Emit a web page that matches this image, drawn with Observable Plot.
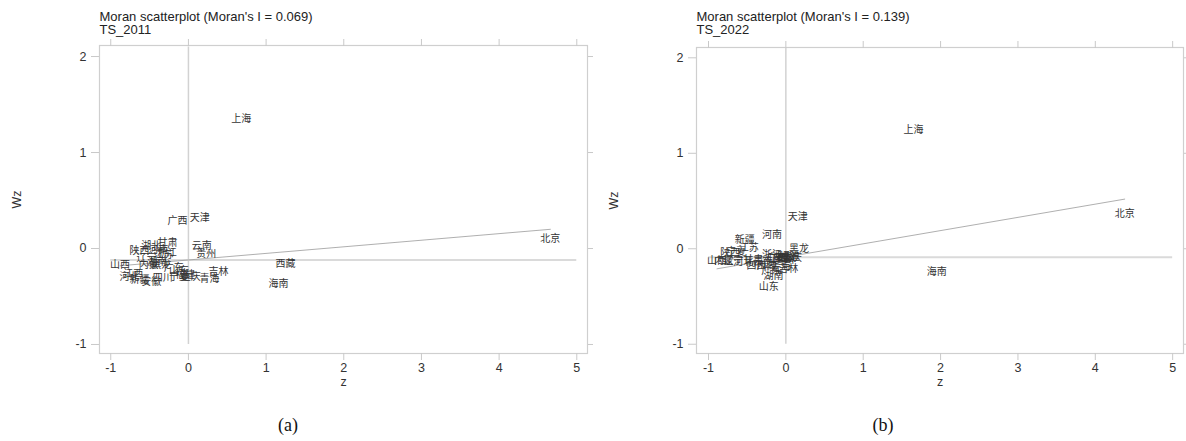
<!DOCTYPE html>
<html><head><meta charset="utf-8">
<script src="https://cdn.jsdelivr.net/npm/d3@7"></script>
<script src="https://cdn.jsdelivr.net/npm/@observablehq/plot@0.6"></script>
<style>
html,body{margin:0;padding:0;background:#fff}
body{width:1186px;height:441px;position:relative;overflow:hidden;font-family:"Liberation Sans",Arial,sans-serif}
.panel{position:absolute;top:0}
.cap{position:absolute;top:413px;width:60px;margin-left:-30px;text-align:center;font-family:"Liberation Serif","Times New Roman",serif;font-size:18px;line-height:24px;color:#111}
</style>
</head><body>
<div id="pa" class="panel" style="left:0"></div>
<div id="pb" class="panel" style="left:593px"></div>
<div class="cap" style="left:288px">(a)</div>
<div class="cap" style="left:883px">(b)</div>
<script>
// ---- data ----
const provinces = ["北京","天津","河北","山西","内蒙","辽宁","吉林","黑龙","上海","江苏","浙江","安徽","福建","江西","山东","河南","湖北","湖南","广东","广西","海南","重庆","四川","贵州","云南","西藏","陕西","甘肃","青海","宁夏","新疆"];

const zA  = [4.66, 0.145, -0.76, -0.88, -0.51, -0.54, 0.386, -0.35, 0.68, -0.32, -0.28, -0.48, -0.04, -0.71, -0.12, -0.39, -0.48, -0.40, -0.19, -0.14, 1.16, 0.03, -0.33, 0.23, 0.17, 1.25, -0.63, -0.27, 0.27, -0.12, -0.63];
const wzA = [0.10, 0.32, -0.30, -0.17, -0.17, -0.10, -0.24, -0.17, 1.354, -0.07, -0.04, -0.35, -0.27, -0.26, -0.23, -0.01, 0.03, -0.135, -0.20, 0.29, -0.37, -0.30, -0.31, -0.06, 0.03, -0.156, -0.02, 0.057, -0.32, -0.30, -0.33];

const zB  = [4.38, 0.155, -0.55, -0.89, -0.80, -0.68, 0.03, 0.17, 1.65, -0.48, -0.18, 0.0, 0.05, -0.10, -0.22, -0.18, -0.05, -0.16, -0.19, -0.12, 1.95, 0.08, -0.38, -0.02, -0.30, -0.25, -0.72, -0.42, -0.07, -0.64, -0.53];
const wzB = [0.37, 0.34, -0.14, -0.13, -0.13, -0.13, -0.21, 0.0, 1.25, 0.01, -0.06, -0.09, -0.08, -0.10, -0.40, 0.15, -0.08, -0.28, -0.23, -0.09, -0.24, -0.09, -0.18, -0.12, -0.14, -0.18, -0.04, -0.12, -0.19, -0.03, 0.09];

const fitZA = [-0.88, 4.66], fitWzA = [-0.18, 0.20];
const fitZB = [-0.89, 4.38], fitWzB = [-0.21, 0.52];
const meanWzA = -0.12, meanWzB = -0.09;

const xTicks = [-1, 0, 1, 2, 3, 4, 5];
const yTicks = [-1, 0, 1, 2];
const titleA = "Moran scatterplot (Moran's I = 0.069)", subA = "TS_2011";
const titleB = "Moran scatterplot (Moran's I = 0.139)", subB = "TS_2022";

// ---- drawing ----
const fmt = d => (d < 0 ? "-" : "") + Math.abs(d);

function panel({z, wz, fitZ, fitWz, meanWz, title, sub, marginLeft, marginRight, marginTop, xDomain, yDomain}) {
  const pts = provinces.map((name, i) => ({name, z: z[i], wz: wz[i]}));
  const fit = fitZ.map((v, i) => ({z: v, wz: fitWz[i]}));
  const tickColor = "#c9c9c9";
  const height = 400, marginBottom = 47;
  return Plot.plot({
    width: 593, height,
    marginLeft, marginRight, marginTop, marginBottom,
    x: {domain: xDomain},
    y: {domain: yDomain},
    style: {fontFamily: "'Liberation Sans', Arial, sans-serif", fontSize: "12px", background: "white", color: "#333", overflow: "visible"},
    marks: [
      Plot.frame({stroke: "#cfcfcf", strokeWidth: 1.2}),
      Plot.axisY(yTicks, {anchor: "left", tickSize: 8, tickPadding: 5, tickFormat: fmt, stroke: tickColor, fill: "#333", label: null, fontSize: 12.5}),
      Plot.axisY(yTicks, {anchor: "right", tickSize: 8, stroke: tickColor, fill: "none", label: null}),
      Plot.axisX(xTicks, {anchor: "bottom", tickSize: 7, tickPadding: 3, tickFormat: fmt, stroke: tickColor, fill: "#333", label: null, fontSize: 12.5}),
      Plot.axisX(xTicks, {anchor: "top", tickSize: 7, stroke: tickColor, fill: "none", label: null}),
      Plot.ruleX([0], {y1: -1, y2: 2.1, stroke: "#d2d2d2", strokeWidth: 1.5}),
      Plot.ruleY([meanWz], {x1: -1, x2: 5, stroke: "#dadada", strokeWidth: 2}),
      Plot.line(fit, {x: "z", y: "wz", stroke: "#9a9a9a", strokeWidth: 0.8}),
      Plot.text(pts, {x: "z", y: "wz", text: "name", fontFamily: "'Noto Sans CJK SC', sans-serif", fontSize: 10, fill: "#333"}),
      Plot.text([title], {frameAnchor: "top-left", textAnchor: "start", lineAnchor: "middle", dy: 16.5 - marginTop, fontSize: 13, fill: "#222"}),
      Plot.text([sub], {frameAnchor: "top-left", textAnchor: "start", lineAnchor: "middle", dy: 29 - marginTop, fontSize: 13, fill: "#222"}),
      Plot.text(["z"], {frameAnchor: "bottom", textAnchor: "middle", lineAnchor: "middle", dy: 28, fontSize: 12.5, fill: "#333"}),
      Plot.text(["Wz"], {frameAnchor: "left", textAnchor: "middle", lineAnchor: "middle", dx: -83, rotate: -90, fontSize: 12.5, fill: "#333"})
    ]
  });
}

document.getElementById("pa").append(panel({
  z: zA, wz: wzA, fitZ: fitZA, fitWz: fitWzA, meanWz: meanWzA, title: titleA, sub: subA,
  marginLeft: 99, marginRight: 6, marginTop: 45,
  xDomain: [-1.145, 5.138], yDomain: [-1.094, 2.115]
}));
document.getElementById("pb").append(panel({
  z: zB, wz: wzB, fitZ: fitZB, fitWz: fitWzB, meanWz: meanWzB, title: titleB, sub: subB,
  marginLeft: 103, marginRight: 3, marginTop: 47,
  xDomain: [-1.155, 5.14], yDomain: [-1.097, 2.108]
}));
</script>
</body></html>
